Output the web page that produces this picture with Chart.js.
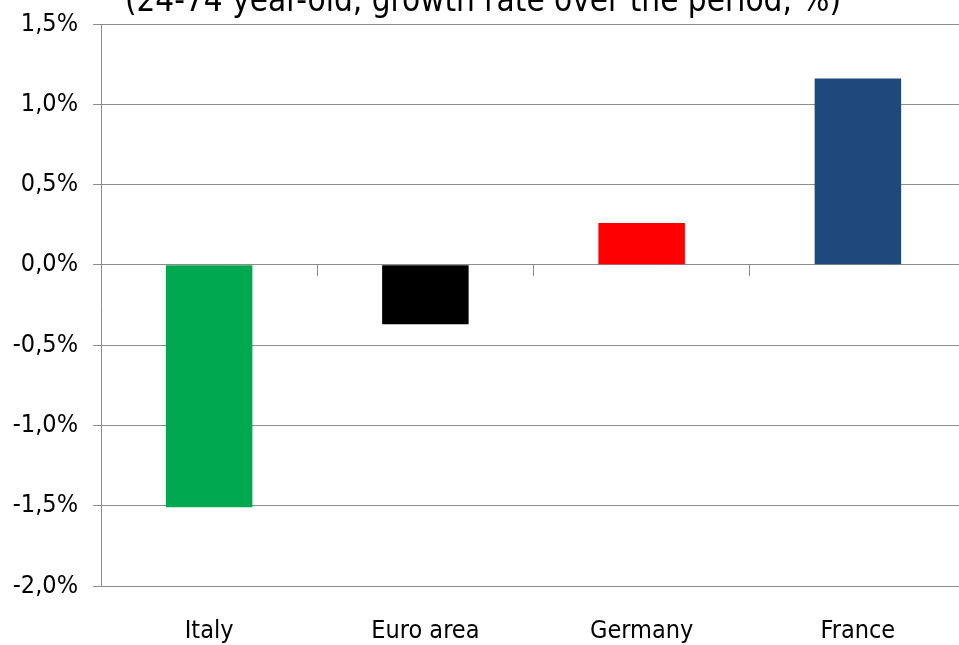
<!DOCTYPE html>
<html>
<head>
<meta charset="utf-8">
<script src="https://cdn.jsdelivr.net/npm/chart.js@4.4.1/dist/chart.umd.min.js"></script>
<style>
  html, body { margin: 0; padding: 0; background: #fff; overflow: hidden; }
  #wrap { position: absolute; left: 0; top: -6px; width: 966px; height: 651px; }
</style>
</head>
<body>
<div id="wrap"><canvas id="growthChart" width="966" height="651"></canvas></div>
<script>
// Employment growth, 24-74 year-olds (%)
const countries = ["Italy", "Euro area", "Germany", "France"];
const growthRates = [-1.51, -0.37, 0.26, 1.16];
const barColors = ["#00A94F", "#000000", "#FF0000", "#1F497D"];
const yTicks = { min: -2.0, max: 1.5, step: 0.5 };

const fontFamily = "'Liberation Sans Narrow', 'DejaVu Sans Condensed', 'Liberation Sans', sans-serif";
const gridGray = "#8c8c8c";

const canvas = document.getElementById("growthChart");
const ctx = canvas.getContext("2d");

new Chart(ctx, {
  type: "bar",
  data: {
    labels: countries,
    datasets: [{
      label: "Growth rate",
      data: growthRates,
      backgroundColor: barColors,
      borderWidth: 0,
      categoryPercentage: 0.8,
      barPercentage: 0.5,
      xAxisID: "x",
      yAxisID: "y"
    }]
  },
  options: {
    responsive: false,
    animation: false,
    events: [],
    layout: { padding: 0 },
    plugins: {
      legend: { display: false },
      tooltip: { enabled: false },
      title: {
        display: true,
        text: "(24-74 year-old, growth rate over the period, %)",
        color: "#000",
        font: { family: fontFamily, size: 33, weight: "normal", lineHeight: 30 / 33 },
        // pulled up so the top of the line sits above the page edge
        padding: { top: -7, bottom: 7 }
      }
    },
    scales: {
      x: {
        type: "category",
        position: "bottom",
        offset: true,
        grid: { display: false, drawTicks: false },
        border: { display: false },
        ticks: {
          color: "#000",
          padding: 30,
          maxRotation: 0,
          font: { family: fontFamily, size: 25 }
        },
        afterFit: (s) => { s.height = 59; }
      },
      // tick marks between categories along the zero line
      xZero: {
        type: "category",
        labels: countries,
        position: { y: 0 },
        offset: true,
        grid: {
          offset: true,
          drawOnChartArea: false,
          drawTicks: true,
          tickLength: 11,
          color: gridGray,
          lineWidth: 1
        },
        border: { display: false },
        ticks: { display: false }
      },
      y: {
        min: yTicks.min,
        max: yTicks.max,
        grid: {
          color: gridGray,
          lineWidth: 1,
          drawTicks: true,
          tickLength: 8
        },
        border: { display: true, color: gridGray, width: 1 },
        ticks: {
          stepSize: yTicks.step,
          color: "#000",
          padding: 15,
          font: { family: fontFamily, size: 25 },
          callback: (v) => v.toFixed(1).replace(".", ",") + "%"
        },
        afterFit: (s) => { s.width = 101; }
      }
    }
  }
});
</script>
</body>
</html>
